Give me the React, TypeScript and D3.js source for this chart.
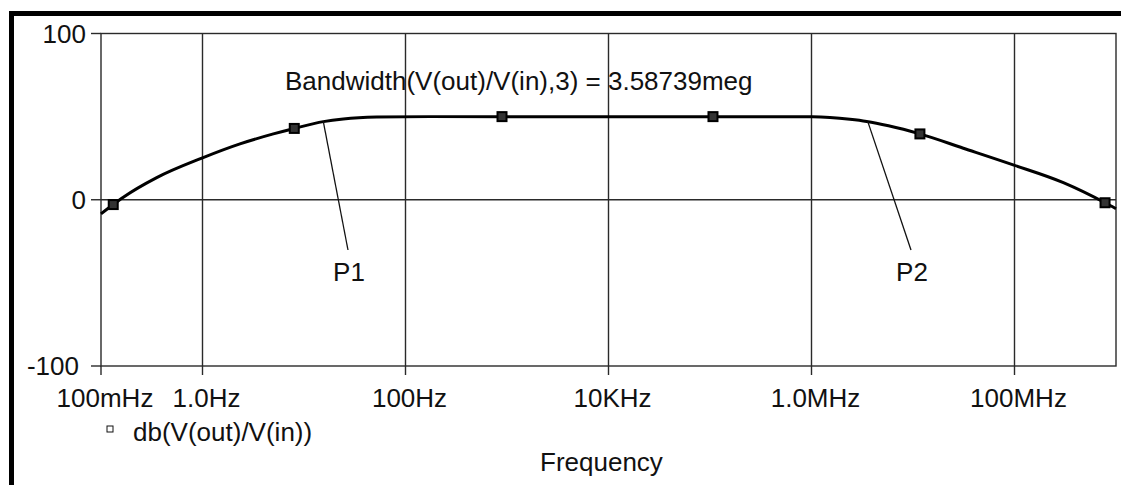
import React from "react";
import * as d3 from "d3";

// ---- data ----
const freqHz = [
  0.1, 0.132, 0.166, 0.354, 1.0, 2.34, 4.99, 8.02, 15.5, 24.4, 52, 174,
  1000, 1e4, 1e5, 4.9e5, 1.02e6, 2.39e6, 3.5e6, 5.74e6, 1.17e7, 3.13e7,
  9.7e7, 3.03e8, 7.8e8, 1.0e9,
];
const gainDb = [
  -8.5, -2.9, 1.5, 13.3, 25.2, 33.6, 39.6, 42.9, 47.0, 48.6, 49.7, 50.0,
  50.0, 50.0, 50.0, 50.0, 49.9, 48.4, 47.1, 44.5, 39.6, 31.0, 21.0, 10.3,
  -1.8, -5.4,
];
const markerHz = [0.132, 8.02, 893, 1.07e5, 1.17e7, 7.8e8];
const markerDb = [-2.9, 42.9, 50.0, 50.0, 39.6, -1.8];

const xTickValues = [0.1, 1, 100, 1e4, 1e6, 1e8];
const xTickLabels = ["100mHz", "1.0Hz", "100Hz", "10KHz", "1.0MHz", "100MHz"];
const yTickValues = [100, 0, -100];
const yTickLabels = ["100", "0", "-100"];

const pointLabels = ["P1", "P2"];
const pointHz = [15.5, 3.587e6];
const pointDb = [47.0, 47.0];

const annotation = "Bandwidth(V(out)/V(in),3) = 3.58739meg";
const legendLabel = "db(V(out)/V(in))";
const xTitle = "Frequency";

// ---- layout ----
const W = 1121;
const H = 485;
const left = 101;
const right = 1116;
const top = 33.5;
const bottom = 366;
const FONT = "'Liberation Sans', Arial, sans-serif";
const FS = 26;
const GRID = "#2a2a2a";

export default function App() {
  const x = d3.scaleLog().domain([0.1, 1e9]).range([left, right]);
  const y = d3.scaleLinear().domain([-100, 100]).range([bottom, top]);

  const pts: [number, number][] = freqHz.map((f, i) => [x(f), y(gainDb[i])]);
  const line = d3.line().curve(d3.curveMonotoneX)(pts) || "";

  const labelDy = [9, 9, 9];
  const yLabelRight = [86, 86, 79];

  return (
    <svg
      width={W}
      height={H}
      style={{ position: "absolute", left: 0, top: 0, background: "#fff" }}
      fontFamily={FONT}
    >
      {/* outer thick frame (top + left) */}
      <rect x={9} y={11} width={W - 9} height={5} fill="#000" />
      <rect x={9} y={11} width={5} height={H - 11} fill="#000" />

      {/* vertical grid */}
      {xTickValues.slice(1).map((v, i) => (
        <line key={"gx" + i} x1={x(v)} x2={x(v)} y1={top} y2={bottom} stroke={GRID} strokeWidth={1.4} />
      ))}
      {/* horizontal grid at 0 */}
      <line x1={left} x2={right} y1={y(0)} y2={y(0)} stroke={GRID} strokeWidth={1.4} />

      {/* plot frame */}
      <rect x={left} y={top} width={right - left} height={bottom - top} fill="none" stroke={GRID} strokeWidth={1.4} />

      {/* y ticks */}
      {yTickValues.map((v, i) => (
        <g key={"yt" + i}>
          <line x1={left - 10} x2={left} y1={y(v)} y2={y(v)} stroke={GRID} strokeWidth={1.4} />
          <text x={yLabelRight[i]} y={y(v) + labelDy[i]} textAnchor="end" fontSize={FS} fill="#111">
            {yTickLabels[i]}
          </text>
        </g>
      ))}

      {/* x ticks */}
      {xTickValues.map((v, i) => (
        <g key={"xt" + i}>
          <line x1={x(v)} x2={x(v)} y1={bottom} y2={bottom + 9} stroke={GRID} strokeWidth={1.4} />
          <text x={x(v) + 4} y={407} textAnchor="middle" fontSize={FS} fill="#111">
            {xTickLabels[i]}
          </text>
        </g>
      ))}

      {/* curve */}
      <path d={line} fill="none" stroke="#000" strokeWidth={3} strokeLinejoin="round" />

      {/* markers */}
      {markerHz.map((f, i) => (
        <rect
          key={"m" + i}
          x={x(f) - 4.5}
          y={y(markerDb[i]) - 4.5}
          width={9}
          height={9}
          fill="#333"
          stroke="#000"
          strokeWidth={2}
        />
      ))}

      {/* annotation */}
      <text x={285} y={90} fontSize={FS} fill="#111">
        {annotation}
      </text>

      {/* point labels with leader lines */}
      {pointLabels.map((p, i) => {
        const px = x(pointHz[i]);
        const py = y(pointDb[i]);
        const lx = i === 0 ? 349 : 912;
        return (
          <g key={"p" + i}>
            <line x1={px} y1={py} x2={lx - 1} y2={250} stroke="#111" strokeWidth={1.3} />
            <text x={lx} y={281} textAnchor="middle" fontSize={FS} fill="#111">
              {p}
            </text>
          </g>
        );
      })}

      {/* legend */}
      <rect x={107} y={426} width={6} height={6} fill="#fff" stroke="#111" strokeWidth={1} />
      <text x={133} y={441} fontSize={FS} fill="#111">
        {legendLabel}
      </text>

      {/* x title */}
      <text x={540} y={471} fontSize={FS} fill="#111">
        {xTitle}
      </text>
    </svg>
  );
}
